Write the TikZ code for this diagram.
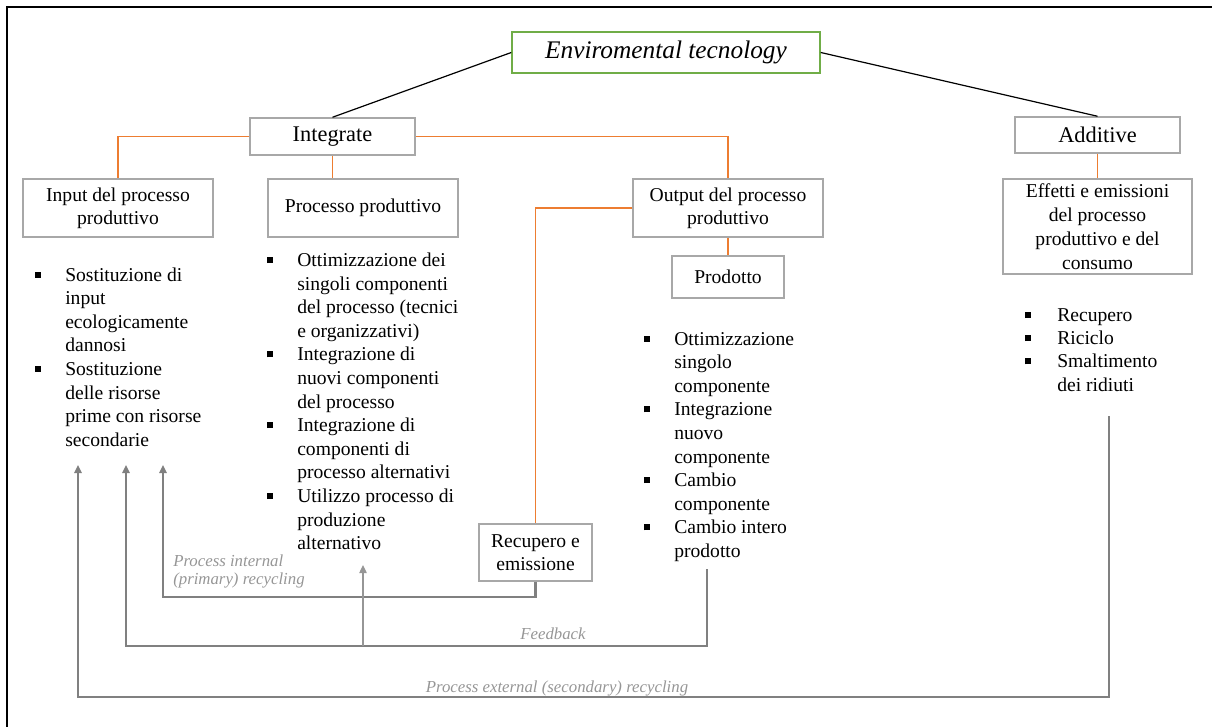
\documentclass[tikz,border=0pt]{standalone}
\usepackage{fontspec}
\setmainfont{Liberation Serif}
\usepackage{array}
\definecolor{c00}{RGB}{0,0,0}
\definecolor{c01}{RGB}{168,168,168}
\definecolor{c02}{RGB}{237,125,49}
\definecolor{c03}{RGB}{112,173,71}
\definecolor{c04}{RGB}{128,128,128}
\definecolor{c05}{RGB}{150,150,150}
\usetikzlibrary{positioning}
\usetikzlibrary{arrows.meta}
\tikzstyle{gbox} = [draw=c01, rectangle, line width=1.1pt, inner sep=0pt,
    align=center, fill=white, font=\fontsize{14.7}{17}\selectfont]
\tikzstyle{Link} = [draw=c02, line width=1.2pt]
\tikzstyle{Tree} = [draw=c00, line width=0.9pt]
\tikzstyle{Loop} = [draw=c04, line width=1.7pt,
    -{Triangle[length=6pt, width=5.5pt]}]
\tikzstyle{Note} = [c05, inner sep=0pt, align=left,
    font=\fontsize{12.6}{13.5}\selectfont\itshape]
\tikzstyle{blist} = [inner sep=0pt, anchor=base west,
    font=\fontsize{14.7}{17.7}\selectfont]
\newcommand{\bsq}{\rule[2.6pt]{4.5pt}{4.5pt}}
\newcommand{\slist}[1]{
    \begin{tabular}[t]{@{}p{22.5pt}@{}l@{}}#1\end{tabular}}

\begin{document}
\begin{tikzpicture}[x=0.75pt, y=-0.75pt]
     \useasboundingbox (0,0) rectangle (1212,727);
     \clip (0,0) rectangle (1212,727);
     \draw [line width=1.5pt] (7,7) rectangle (1240,760);
     % ><>< =================== ><>< %
     % ><><     Place nodes     ><>< %
     % ><>< =================== ><>< %
     \node [gbox, draw=c03, minimum width=231pt, minimum height=30.75pt,
        font=\fontsize{19}{22}\selectfont\itshape] (tec) at (666,52.5)
        {Enviromental tecnology};
     \node [gbox, minimum width=123.75pt, minimum height=27.75pt,
        font=\fontsize{16.8}{19}\selectfont] (integ) at (332.5,136.5)
        {Integrate};
     \node [gbox, minimum width=123.75pt, minimum height=27pt,
        font=\fontsize{16.8}{19}\selectfont] (addit) at (1097.5,135)
        {Additive};
     \node [gbox, minimum width=142.5pt, minimum height=43.5pt]
        (inp) at (118,208) {Input del processo\\produttivo};
     \node [gbox, minimum width=142.5pt, minimum height=43.5pt]
        (proc) at (363,208) {Processo produttivo};
     \node [gbox, minimum width=142.5pt, minimum height=43.5pt]
        (outp) at (728,208) {Output del processo\\produttivo};
     \node [gbox, minimum width=84pt, minimum height=31.5pt]
        (prod) at (728,277) {Prodotto};
     \node [gbox, minimum width=141.75pt, minimum height=71.25pt,
        font=\fontsize{14.7}{18}\selectfont] (effe) at (1097.5,226.5)
        {Effetti e emissioni\\del processo\\produttivo e del\\consumo};
     \node [gbox, minimum width=84.75pt, minimum height=42.75pt]
        (recu) at (535.5,552.5) {Recupero e\\emissione};
     % ><>< =================== ><>< %
     \node [blist] (linp) at (35,281) {\slist{
        \bsq & Sostituzione di\\ & input\\ & ecologicamente\\ & dannosi\\
        \bsq & Sostituzione\\ & delle risorse\\ & prime con risorse\\
        & secondarie}};
     \node [blist] (lproc) at (267,266.5) {\slist{
        \bsq & Ottimizzazione dei\\ & singoli componenti\\
        & del processo (tecnici\\ & e organizzativi)\\
        \bsq & Integrazione di\\ & nuovi componenti\\ & del processo\\
        \bsq & Integrazione di\\ & componenti di\\ & processo alternativi\\
        \bsq & Utilizzo processo di\\ & produzione\\ & alternativo}};
     \node [blist] (lprod) at (644,345) {\slist{
        \bsq & Ottimizzazione\\ & singolo\\ & componente\\
        \bsq & Integrazione\\ & nuovo\\ & componente\\
        \bsq & Cambio\\ & componente\\
        \bsq & Cambio intero\\ & prodotto}};
     \node [blist, font=\fontsize{14.7}{17.4}\selectfont] (ladd)
        at (1025,321.5) {\begin{tabular}[t]{@{}p{24pt}@{}l@{}}
        \bsq & Recupero\\ \bsq & Riciclo\\ \bsq & Smaltimento\\
        & dei ridiuti\end{tabular}};
     % ><>< =================== ><>< %
     \node [Note, anchor=west] (nint) at (173,571)
        {Process internal\\(primary) recycling};
     \node [Note] (nfb) at (553,634) {Feedback};
     \node [Note] (next) at (557,688)
        {Process external (secondary) recycling};
     % ><>< =================== ><>< %
     \coordinate (tipA) at (163,465);
     \coordinate (tipB) at (126,465);
     \coordinate (tipC) at (363,565);
     \coordinate (tipD) at (78,465);
     \coordinate (fbtop) at (707,569);
     \coordinate (extop) at (1109,416);
     % ><>< =================== ><>< %
     % ><><     Draw lines.     ><>< %
     % ><>< =================== ><>< %
     \path [Tree] (tec.west) -- (integ.north);
     \path [Tree] (tec.east) -- (addit.north);
     \path [Link] (integ.west) -| (inp.north);
     \path [Link] (integ.south) -- (integ.south |- proc.north);
     \path [Link] (integ.east) -| (outp.north);
     \path [Link] (outp.west) -| (recu.north);
     \path [Link] (outp.south) -- (prod.north);
     \path [Link] (addit.south) -- (effe.north);
     \path [Loop] (recu.south) -- ++(0,15) -| (tipA);
     \path [Loop] (fbtop) -- ++(0,77) -| (tipB);
     \path [Loop, line width=1pt, draw=c05] (tipC |- 0,646) -- (tipC);
     \path [Loop] (extop) -- ++(0,281) -| (tipD);
\end{tikzpicture}
\end{document}
